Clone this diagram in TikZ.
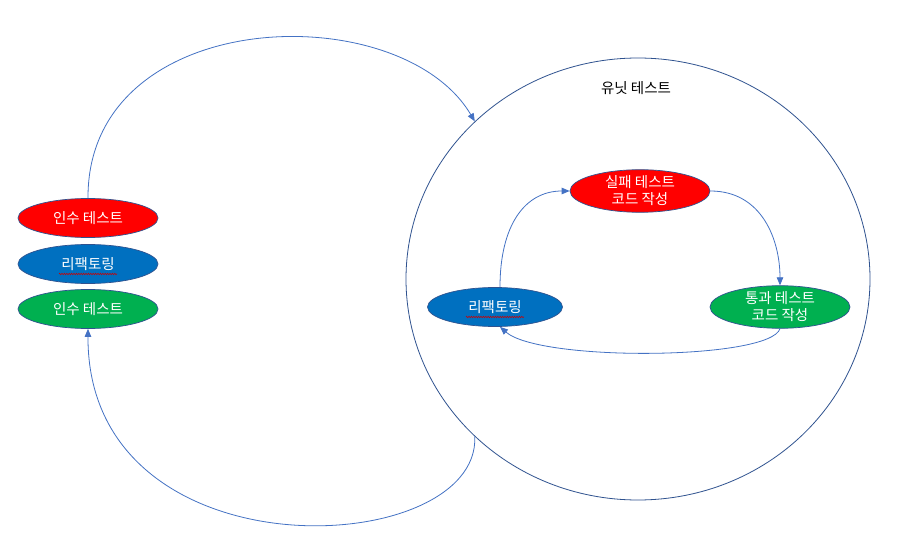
\documentclass[tikz,border=0pt]{standalone}
\usepackage{fontspec}
\setmainfont{Noto Sans CJK KR}
\usetikzlibrary{shapes.geometric,arrows.meta,decorations.pathmorphing}
\definecolor{cred}{HTML}{FF0000}
\definecolor{cblue}{HTML}{0070C0}
\definecolor{cgreen}{HTML}{00B050}
\definecolor{outl}{HTML}{2F528F}
\definecolor{arr}{HTML}{4472C4}
\tikzset{
  oval/.style={ellipse, draw=outl, line width=0.7pt, inner sep=0pt, minimum width=140pt, minimum height=39pt, text=white, font=\fontsize{14.5}{17}\selectfont, align=center},
  conn/.style={draw=arr, line width=0.8pt, -{Triangle[length=8pt,width=6.5pt]}},
  squig/.style={draw=red!80!black, line width=0.5pt, decorate, decoration={zigzag, amplitude=0.8pt, segment length=2.4pt}}
}
\begin{document}
\begin{tikzpicture}[x=1pt,y=-1pt]
\useasboundingbox[fill=white] (0,0) rectangle (908,553);
% big circle
\node[ellipse, draw=outl, line width=0.8pt, minimum width=464pt, minimum height=442pt, inner sep=0pt] (circ) at (638,279) {};
\node[font=\fontsize{14.5}{17}\selectfont] (title) at (636,88) {유닛 테스트};
% left stack
\node[oval, fill=cred] (redL) at (88,218) {인수 테스트};
\node[oval, fill=cblue] (blueL) at (88,264) {리팩토링};
\node[oval, fill=cgreen] (greenL) at (88,309) {인수 테스트};
\draw[squig] ([xshift=-29pt,yshift=-10pt]blueL.center) -- ([xshift=29pt,yshift=-10pt]blueL.center);
% inner cycle
\node[oval, fill=cred] (redI) at (640,191) {실패 테스트\\코드 작성};
\node[oval, fill=cblue, minimum width=135pt] (blueI) at (495,307) {리팩토링};
\node[oval, fill=cgreen] (greenI) at (780,307) {통과 테스트\\코드 작성};
\draw[squig] ([xshift=-29pt,yshift=-10pt]blueI.center) -- ([xshift=29pt,yshift=-10pt]blueI.center);
% outer arcs
\draw[conn] (redL.north) .. controls (87,5) and (400,-5) .. (circ.136);
\draw[conn] (circ.224) .. controls (480,560) and (87,580) .. (greenL.south);
% inner arcs
\draw[conn] ([xshift=5pt]blueI.north) .. controls (500,225) and (525,191) .. (redI.west);
\draw[conn] (redI.east) .. controls (762,191) and (780,240) .. (greenI.north);
\draw[conn] (greenI.south) .. controls (770,360) and (540,362) .. ([xshift=5pt]blueI.south);
\end{tikzpicture}
\end{document}
